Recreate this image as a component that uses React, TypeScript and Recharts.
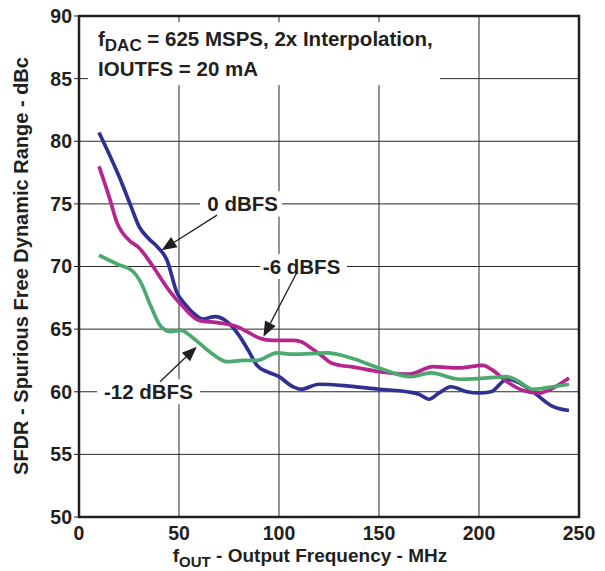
import {
  LineChart,
  Line,
  XAxis,
  YAxis,
  CartesianGrid,
  ReferenceArea,
  ReferenceLine,
  ReferenceDot,
} from 'recharts'

const FONT = '"Liberation Sans", Arial, sans-serif'
const INK = '#231f20'

const xTicks = [0, 50, 100, 150, 200, 250]
const yTicks = [50, 55, 60, 65, 70, 75, 80, 85, 90]

// 0 dBFS
const freq0 = [10, 15, 20, 26, 30, 35, 39, 44, 49, 53, 57, 62, 68, 74, 80, 85, 89, 94, 100, 107, 111, 120, 135, 150, 164, 170, 175, 180, 186, 194, 200, 206, 214, 219, 227, 236, 245]
const sfdr0 = [80.7, 79.0, 77.2, 74.8, 73.2, 72.2, 71.6, 70.5, 67.9, 67.0, 66.3, 65.8, 66.0, 65.6, 64.5, 63.2, 62.1, 61.6, 61.2, 60.4, 60.2, 60.6, 60.45, 60.2, 60.0, 59.8, 59.4, 59.9, 60.4, 60.0, 59.9, 60.0, 61.0, 60.8, 60.0, 58.9, 58.5]

// -6 dBFS
const freq6 = [10, 15, 19, 25, 30, 37, 45, 52, 60, 70, 79, 84, 90, 97, 107, 111, 116, 122, 126, 131, 136, 150, 165, 177, 190, 202, 206, 214, 222, 230, 237, 245]
const sfdr6 = [78.0, 75.6, 73.5, 72.1, 71.5, 70.0, 68.1, 66.8, 65.7, 65.5, 65.2, 64.8, 64.3, 64.1, 64.1, 64.0, 63.5, 62.8, 62.3, 62.1, 62.0, 61.6, 61.4, 62.0, 61.9, 62.1, 61.8, 60.8, 60.1, 59.9, 60.3, 61.1]

// -12 dBFS
const freq12 = [10, 19, 27, 31, 36, 41, 46, 51, 57, 66, 74, 82, 89, 99, 107, 124, 136, 150, 166, 176, 190, 204, 214, 219, 227, 237, 245]
const sfdr12 = [70.9, 70.2, 69.6, 68.7, 66.8, 65.2, 64.8, 64.9, 64.3, 63.1, 62.4, 62.5, 62.5, 63.1, 63.0, 63.1, 62.7, 61.9, 61.2, 61.5, 61.0, 61.1, 61.2, 60.9, 60.2, 60.4, 60.6]

const series = [
  { name: '0 dBFS', freq: freq0, sfdr: sfdr0, color: '#2e3192' },
  { name: '-6 dBFS', freq: freq6, sfdr: sfdr6, color: '#b5248f' },
  { name: '-12 dBFS', freq: freq12, sfdr: sfdr12, color: '#4caa6e' },
]

// label text position, box extent (x range), arrow start/tip
const notes = [
  { text: '0 dBFS', at: [81.8, 75], box: [60.5, 101.5], from: [69, 74.1], tip: [41.3, 71.3] },
  { text: '-6 dBFS', at: [111.3, 70], box: [90.5, 134], from: [109.2, 69.6], tip: [92.2, 64.4] },
  { text: '-12 dBFS', at: [34.7, 60], box: [9, 60.5], from: [40.5, 60.8], tip: [58.9, 63.6] },
]

function Arrow(props: any) {
  const { x1, y1, x2, y2 } = props
  const dx = x2 - x1
  const dy = y2 - y1
  const len = Math.sqrt(dx * dx + dy * dy)
  const ux = dx / len
  const uy = dy / len
  const hl = 15
  const hw = 6
  const bx = x2 - ux * hl
  const by = y2 - uy * hl
  const pts = `${x2},${y2} ${bx - uy * hw},${by + ux * hw} ${bx + uy * hw},${by - ux * hw}`
  return (
    <g>
      <line x1={x1} y1={y1} x2={bx} y2={by} stroke={INK} strokeWidth={1.3} />
      <polygon points={pts} fill={INK} />
    </g>
  )
}

function NoteText({ cx, cy, text }: any) {
  return (
    <text x={cx} y={cy + 7} textAnchor="middle" fontFamily={FONT} fontWeight="bold" fontSize={20.5} fill={INK}>
      {text}
    </text>
  )
}

function TitleText({ cx, cy }: any) {
  return (
    <text fontFamily={FONT} fontWeight="bold" fontSize={20.5} fill={INK}>
      <tspan x={cx} y={cy}>f</tspan>
      <tspan dy={5} fontSize={17}>DAC</tspan>
      <tspan dy={-5}> = 625 MSPS, 2x Interpolation,</tspan>
      <tspan x={cx} y={cy + 30}>IOUTFS = 20 mA</tspan>
    </text>
  )
}

export default function App() {
  return (
    <div style={{ position: 'absolute', left: 0, top: 0, width: 605, height: 571, background: '#fff' }}>
      <LineChart width={605} height={571} margin={{ top: 16, right: 26, bottom: 0, left: 0 }}>
        <CartesianGrid stroke="#2a2a2a" strokeWidth={1} />
        <XAxis
          type="number"
          dataKey="f"
          domain={[0, 250]}
          ticks={xTicks}
          axisLine={false}
          tickLine={false}
          height={54}
          tickMargin={3}
          tick={{ fontFamily: FONT, fontWeight: 'bold', fontSize: 19.5, fill: INK }}
          allowDuplicatedCategory={false}
        />
        <YAxis
          type="number"
          domain={[50, 90]}
          ticks={yTicks}
          width={79}
          axisLine={false}
          tickLine={{ stroke: INK }}
          tickSize={5}
          tickMargin={2}
          tick={{ fontFamily: FONT, fontWeight: 'bold', fontSize: 19.5, fill: INK }}
        />
        <ReferenceArea x1={4.5} x2={180.5} y1={84.5} y2={89.5} fill="#fff" fillOpacity={1} stroke="none" />
        {notes.map(n => (
          <ReferenceArea
            key={n.text + 'box'}
            x1={n.box[0]}
            x2={n.box[1]}
            y1={n.at[1] - 1}
            y2={n.at[1] + 1}
            fill="#fff"
            fillOpacity={1}
            stroke="none"
          />
        ))}
        {series.map(s => (
          <Line
            key={s.name}
            data={s.freq.map((f, i) => ({ f, v: s.sfdr[i] }))}
            dataKey="v"
            type="monotone"
            stroke={s.color}
            strokeWidth={3.7}
            dot={false}
            isAnimationActive={false}
          />
        ))}
        {notes.map(n => (
          <ReferenceLine
            key={n.text + 'arrow'}
            segment={[
              { x: n.from[0], y: n.from[1] },
              { x: n.tip[0], y: n.tip[1] },
            ]}
            shape={Arrow}
          />
        ))}
        {notes.map(n => (
          <ReferenceDot
            key={n.text}
            x={n.at[0]}
            y={n.at[1]}
            shape={(p: any) => <NoteText {...p} text={n.text} />}
          />
        ))}
        <ReferenceDot x={9.5} y={87.6} shape={(p: any) => <TitleText {...p} />} />
        <ReferenceArea x1={0} x2={250} y1={50} y2={90} fill="none" stroke={INK} strokeWidth={2.5} />
      </LineChart>
      <svg width={605} height={571} style={{ position: 'absolute', left: 0, top: 0, pointerEvents: 'none' }}>
        <text
          transform="translate(28,266) rotate(-90)"
          textAnchor="middle"
          fontFamily={FONT}
          fontWeight="bold"
          fontSize={20}
          fill={INK}
        >
          SFDR - Spurious Free Dynamic Range - dBc
        </text>
        <text textAnchor="middle" fontFamily={FONT} fontWeight="bold" fontSize={19}>
          <tspan x={310} y={562} fill={INK}>f</tspan>
          <tspan dy={5} fontSize={15} fill={INK}>OUT</tspan>
          <tspan dy={-5} fill={INK}> - Output Frequency - MHz</tspan>
        </text>
      </svg>
    </div>
  )
}
